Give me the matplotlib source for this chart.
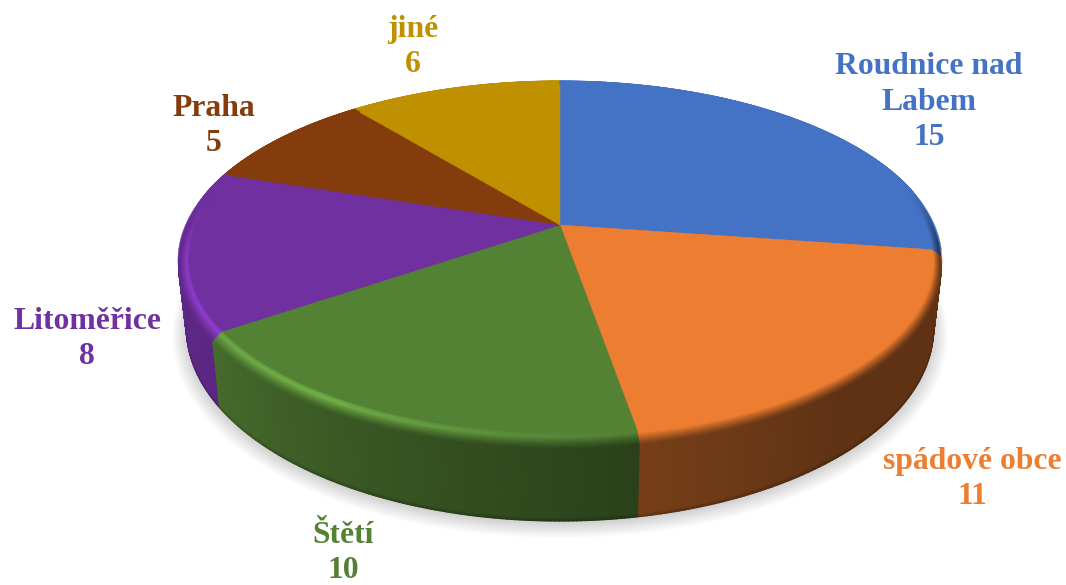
import numpy as np
import matplotlib
matplotlib.use("Agg")
import matplotlib.pyplot as plt
from matplotlib.colors import to_rgb

# DATA
nazvy = ["Roudnice nad\nLabem", "spádové obce", "Štětí", "Litoměřice", "Praha", "jiné"]
hodnoty = [15, 11, 10, 8, 5, 6]
barvy = ["#4472C4", "#ED7D31", "#548235", "#7030A0", "#843C0C", "#BF9000"]

# pozice popisku v pixelech (stred textu)
popisky_xy = [(929, 102), (972, 479), (343, 553), (87, 339), (214, 126), (413, 47)]

# GEOMETRIE (perspektiva disku)
CX, CY = 560, 225
BX, BY = 374.5, 172.5
K = 0.198
HLOUBKA = 65
ZUZENI = 0.022
BEVEL_R = 0.028
BEVEL_Z = 0.10


def proj(ang, r=1.0, z=0.0):
    # ang ve stupnich po smeru hodin od vrcholu
    a = np.radians(ang)
    x = r * np.sin(a)
    y = r * np.cos(a)
    w = 1 + K * y
    return CX + BX * x / w * (1 - ZUZENI * z), CY + (-BY * y + HLOUBKA * z) / w


def vaha_predek(ang):
    # 0 vzadu, 1 vpredu (hladky prechod)
    y = np.cos(np.radians(ang))
    t = np.clip((0.25 - y) / 0.45, 0, 1)
    return t * t * (3 - 2 * t)


def uhel_norm(ang):
    return (np.asarray(ang) - 60) % 360 + 60


def faktor_boku(ang):
    return np.interp(uhel_norm(ang), [98, 140, 170, 200, 235, 290], [0.40, 0.40, 0.50, 0.64, 0.82, 0.85])


def faktor_hrany(ang):
    return np.interp(uhel_norm(ang), [98, 172, 188, 212, 262, 300], [1.0, 1.0, 1.12, 1.38, 1.22, 1.05])


def sit(ang, rs, zs, barvy_radku):
    # jeden pruh povrchu: radky jsou body profilu, sloupce uhly
    X, Y = [], []
    for r, z in zip(rs, zs):
        px, py = proj(ang, r, z)
        X.append(px)
        Y.append(py)
    C = np.clip(np.stack(barvy_radku, axis=0), 0, 1)
    ax.pcolormesh(np.array(X), np.array(Y), C, shading="gouraud", zorder=zorder_sit)


hranice = np.cumsum([0] + hodnoty) / sum(hodnoty) * 360
stredy = (hranice[:-1] + hranice[1:]) / 2
poradi = np.argsort(-np.cos(np.radians(stredy)))

fig = plt.figure(figsize=(10.66, 5.85), dpi=100, facecolor="white")
ax = fig.add_axes([0, 0, 1, 1])

# STIN
uhly = np.linspace(0, 360, 361)
for s in np.linspace(0.05, 0.0, 15):
    sx, sy = proj(uhly, 1 + s * 0.75, 1.0 + s)
    ax.fill(sx, sy + 2, color="#000000", alpha=0.013, lw=0, zorder=1)

# BOKY
zorder_sit = 2
for i in poradi:
    rgb = np.array(to_rgb(barvy[i]))
    ang = np.linspace(hranice[i], hranice[i + 1], 120)
    z0 = BEVEL_Z * vaha_predek(ang)
    f = faktor_boku(ang)[:, None]
    bok = rgb * f
    # tmavsi spodni okraj jen vpredu
    dole = bok * (1 - 0.25 * np.clip(-np.cos(np.radians(ang)) / 0.5, 0, 1))[:, None]
    rs = [1.0, 1.0, 1.0, 1.0]
    zs = [z0, z0 + (1 - z0) * 0.96, z0 + (1 - z0) * 0.96, np.ones_like(ang)]
    sit(ang, rs, zs, [bok, bok, bok, dole])

# ZADNI OBRYS DISKU (pod hranou)
for i, c in enumerate(barvy):
    ang = np.linspace(hranice[i], hranice[i + 1], 200)
    px, py = proj(ang, 1.0)
    ax.fill(np.r_[CX, px], np.r_[CY, py], color=c, lw=0.3, zorder=2.5)

# ZAOBLENI HRANY
zorder_sit = 3
profil = np.linspace(0, 1, 9)
for i in poradi:
    rgb = np.array(to_rgb(barvy[i]))
    ang = np.linspace(hranice[i], hranice[i + 1], 120)
    w = vaha_predek(ang)[:, None]
    bok = rgb * faktor_boku(ang)[:, None]
    h = rgb * faktor_hrany(ang)[:, None]
    rs, zs, cs = [], [], []
    for t in profil:
        if t < 0.5:
            col = rgb + (h - rgb) * (t / 0.5)
        else:
            col = h + (bok - h) * ((t - 0.5) / 0.5)
        rs.append(1 - BEVEL_R * np.cos(t * np.pi / 2))
        zs.append(BEVEL_Z * vaha_predek(ang) * (1 - np.sin((1 - t) * np.pi / 2)))
        cs.append(rgb + (col - rgb) * w)
    sit(ang, rs, zs, cs)

# HORNI PLOCHA
for i, c in enumerate(barvy):
    ang = np.linspace(hranice[i], hranice[i + 1], 200)
    px, py = proj(ang, 1 - BEVEL_R)
    ax.fill(np.r_[CX, px], np.r_[CY, py], color=c, lw=0.3, zorder=4)

# POPISKY
for nazev, hodnota, c, (tx, ty) in zip(nazvy, hodnoty, barvy, popisky_xy):
    ax.text(tx, ty, f"{nazev}\n{hodnota}", color=c, ha="center", va="center",
            family="Liberation Serif", weight="bold", fontsize=22.8, linespacing=1.3, zorder=5)

ax.set_xlim(0, 1066)
ax.set_ylim(585, 0)
ax.axis("off")

fig.savefig("out.png", dpi=100, facecolor="white")
